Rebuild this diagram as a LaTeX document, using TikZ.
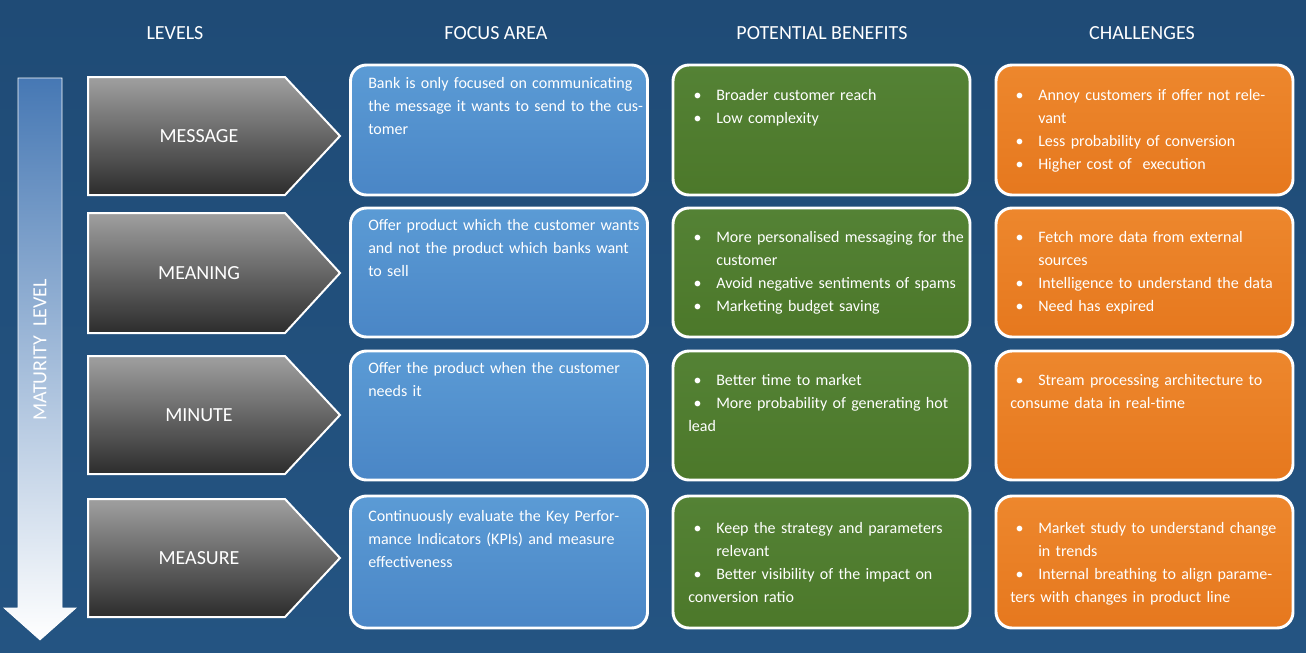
\documentclass[tikz,border=0pt]{standalone}
\usepackage{fontspec}
\setmainfont{Carlito}
\begin{document}
\newcommand\bl[1]{\par\noindent\hangindent=21pt\hangafter=1\makebox[21pt][l]{\hspace{4pt}\textbullet}#1}
\definecolor{bg}{RGB}{31,75,118}
\definecolor{bgl}{RGB}{36,84,130}
\definecolor{arrtop}{RGB}{70,120,180}
\definecolor{bluet}{RGB}{91,155,213}
\definecolor{blueb}{RGB}{74,134,198}
\definecolor{greent}{RGB}{84,130,53}
\definecolor{greenb}{RGB}{76,120,42}
\definecolor{oranget}{RGB}{237,135,45}
\definecolor{orangeb}{RGB}{230,120,30}
\begin{tikzpicture}[x=0.75pt,y=-0.75pt,
  hdr/.style={text=white,font=\fontsize{15pt}{18pt}\selectfont},
  box/.style={draw=white,line width=2.2pt,rounded corners=12pt,minimum width=222.75pt,inner sep=0},
  blue/.style={box,top color=bluet,bottom color=blueb},
  green/.style={box,top color=greent,bottom color=greenb},
  orange/.style={box,top color=oranget,bottom color=orangeb},
  txt/.style={anchor=north west,inner sep=0,text=white,align=left,text width=207pt,font=\fontsize{12pt}{17.25pt}\selectfont},
  lvl/.style={text=white,font=\fontsize{15pt}{18pt}\selectfont},
  pent/.style={draw=white,line width=1.5pt,top color=gray!75,bottom color=gray!35!black}]
\useasboundingbox (0,0) rectangle (1306,653);
\shade[top color=bg,bottom color=bgl] (0,0) rectangle (1306,653);
\node[hdr] (h1) at (175,33) {LEVELS};
\node[hdr] (h2) at (496,33) {FOCUS AREA};
\node[hdr] (h3) at (822,33) {POTENTIAL BENEFITS};
\node[hdr] (h4) at (1142,33) {CHALLENGES};
% maturity arrow
\shade[top color=arrtop,bottom color=white,draw=white,line width=0.5pt]
  (18,78) -- (62,78) -- (62,608) -- (76,608) -- (40,640) -- (4,608) -- (18,608) -- cycle;
\node[rotate=90,text=white,font=\fontsize{15pt}{18pt}\selectfont] (mat) at (40,350) {MATURITY\ \ LEVEL};
% levels
\foreach \t/\b/\name/\lab in {77/195/l1/MESSAGE,213/333/l2/MEANING,356/474/l3/MINUTE,499/617/l4/MEASURE}{
  \shade[pent] (88,\t) -- (285,\t) -- (340,{(\t+\b)/2}) -- (285,\b) -- (88,\b) -- cycle;
  \node[lvl] (\name) at (199,{(\t+\b)/2}) {\lab};
}
% boxes
\foreach \r/\t/\b in {1/65/195,2/208/337,3/351/480,4/496/628}{
  \node[blue,minimum height={(\b-\t)*0.75pt}] (f\r) at (499,{(\t+\b)/2}) {};
  \node[green,minimum height={(\b-\t)*0.75pt}] (p\r) at (821.5,{(\t+\b)/2}) {};
  \node[orange,minimum height={(\b-\t)*0.75pt}] (c\r) at (1144.5,{(\t+\b)/2}) {};
}
\node[txt] (ft1) at (368,77) {Bank is only focused on communicating the message it wants to send to the customer};
\node[txt] (ft2) at (368,219) {Offer product which the customer wants and not the product which banks want to sell};
\node[txt] (ft3) at (368,362) {Offer the product when the customer needs it};
\node[txt] (ft4) at (368,510) {Continuously evaluate the Key Performance Indicators (KPIs) and measure effectiveness};
\node[txt] (pt1) at (688,77) {\bl{Broader customer reach}\bl{Low complexity}};
\node[txt] (pt2) at (688,219) {\bl{More personalised messaging for the customer}\bl{Avoid negative sentiments of spams}\bl{Marketing budget saving}};
\node[txt] (pt3) at (688,362) {\bl{Better time to market}\bl{More probability of generating hot lead}};
\node[txt] (pt4) at (688,510) {\bl{Keep the strategy and parameters relevant}\bl{Better visibility of the impact on conversion ratio}};
\node[txt] (ct1) at (1010,77) {\bl{Annoy customers if offer not relevant}\bl{Less probability of conversion}\bl{Higher cost of \ execution}};
\node[txt] (ct2) at (1010,219) {\bl{Fetch more data from external sources}\bl{Intelligence to understand the data}\bl{Need has expired}};
\node[txt] (ct3) at (1010,362) {\bl{Stream processing architecture to consume data in real-time}};
\node[txt] (ct4) at (1010,510) {\bl{Market study to understand change in trends}\bl{Internal breathing to align parameters with changes in product line}};
\end{tikzpicture}
\end{document}
